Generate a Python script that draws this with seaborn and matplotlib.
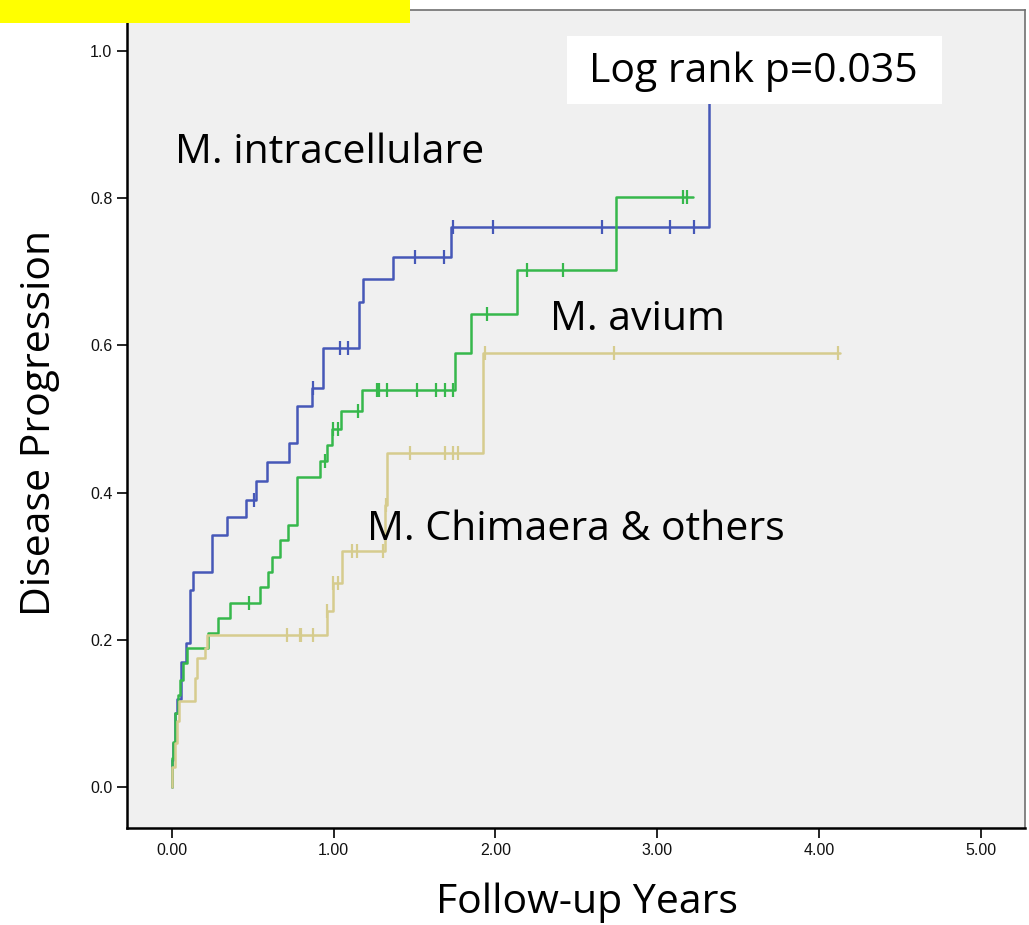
import numpy as np
import pandas as pd
import matplotlib
matplotlib.use("Agg")
import matplotlib.pyplot as plt
import seaborn as sns
from matplotlib.patches import Rectangle

# ---------------- data ----------------
groups = ["M. intracellulare", "M. avium", "M. Chimaera & others"]

intra_t = [0.0, 0.0, 0.006, 0.02, 0.03, 0.055, 0.087, 0.11, 0.13, 0.247, 0.34, 0.458, 0.52,
           0.588, 0.724, 0.773, 0.866, 0.934, 1.156, 1.181, 1.367, 1.725, 3.32]
intra_p = [0.0, 0.037, 0.06, 0.10, 0.12, 0.17, 0.195, 0.268, 0.292, 0.342, 0.367, 0.39, 0.416,
           0.442, 0.467, 0.518, 0.542, 0.596, 0.659, 0.69, 0.72, 0.761, 1.0]
intra_cens_t = [0.51, 0.87, 1.04, 1.09, 1.50, 1.68, 1.74, 1.985, 2.66, 3.08, 3.23]
intra_cens_p = [0.39, 0.542, 0.596, 0.596, 0.72, 0.72, 0.761, 0.761, 0.761, 0.761, 0.761]

avium_t = [0.0, 0.0, 0.006, 0.02, 0.035, 0.05, 0.068, 0.09, 0.22, 0.285, 0.36, 0.545, 0.594,
           0.62, 0.668, 0.717, 0.773, 0.915, 0.96, 0.99, 1.045, 1.175, 1.75, 1.85, 2.134,
           2.746, 3.22]
avium_p = [0.0, 0.04, 0.061, 0.10, 0.125, 0.145, 0.168, 0.189, 0.209, 0.23, 0.25, 0.272, 0.292,
           0.313, 0.336, 0.356, 0.421, 0.443, 0.465, 0.486, 0.511, 0.539, 0.59, 0.643, 0.702,
           0.802, 0.802]
avium_cens_t = [0.476, 0.946, 0.996, 1.027, 1.15, 1.268, 1.28, 1.33, 1.515, 1.633, 1.688,
                1.738, 1.95, 2.195, 2.418, 3.16, 3.185]
avium_cens_p = [0.25, 0.443, 0.486, 0.486, 0.511, 0.539, 0.539, 0.539, 0.539, 0.539, 0.539,
                0.539, 0.643, 0.702, 0.702, 0.802, 0.802]

chim_t = [0.0, 0.0, 0.02, 0.03, 0.045, 0.142, 0.155, 0.204, 0.216, 0.959, 0.996, 1.051,
          1.317, 1.33, 1.923, 4.13]
chim_p = [0.0, 0.027, 0.06, 0.09, 0.117, 0.148, 0.175, 0.189, 0.206, 0.239, 0.277, 0.32,
          0.383, 0.454, 0.59, 0.59]
chim_cens_t = [0.711, 0.79, 0.80, 0.87, 0.96, 0.996, 1.027, 1.113, 1.144, 1.305, 1.323,
               1.47, 1.69, 1.74, 1.77, 1.936, 2.733, 4.12]
chim_cens_p = [0.206, 0.206, 0.206, 0.206, 0.239, 0.277, 0.277, 0.32, 0.32, 0.32, 0.383,
               0.454, 0.454, 0.454, 0.454, 0.59, 0.59, 0.59]

x_ticks = [0, 1, 2, 3, 4, 5]
x_tick_labels = ["0.00", "1.00", "2.00", "3.00", "4.00", "5.00"]
y_ticks = [0.0, 0.2, 0.4, 0.6, 0.8, 1.0]
y_tick_labels = ["0.0", "0.2", "0.4", "0.6", "0.8", "1.0"]
p_text = "Log rank p=0.035"

# ---------------- tables ----------------
curves = pd.concat([
    pd.DataFrame({"t": intra_t, "p": intra_p, "group": groups[0]}),
    pd.DataFrame({"t": avium_t, "p": avium_p, "group": groups[1]}),
    pd.DataFrame({"t": chim_t, "p": chim_p, "group": groups[2]}),
], ignore_index=True)
cens = pd.concat([
    pd.DataFrame({"t": intra_cens_t, "p": intra_cens_p, "group": groups[0]}),
    pd.DataFrame({"t": avium_cens_t, "p": avium_cens_p, "group": groups[1]}),
    pd.DataFrame({"t": chim_cens_t, "p": chim_cens_p, "group": groups[2]}),
], ignore_index=True)

palette = {groups[0]: "#4658b8", groups[1]: "#36b84c", groups[2]: "#d6cc8e"}

# ---------------- figure ----------------
sns.set_theme(style="white")
plt.rcParams["font.family"] = ["Liberation Sans", "DejaVu Sans"]
plt.rcParams["text.color"] = "black"

fig = plt.figure(figsize=(10.29, 9.25), dpi=100)
ax = fig.add_axes([127 / 1029, 1 - 828 / 925, (1025 - 127) / 1029, (828 - 10) / 925])
ax.set_facecolor("#f0f0f0")

sns.lineplot(data=curves, x="t", y="p", hue="group", palette=palette, estimator=None,
             sort=False, drawstyle="steps-post", linewidth=1.8, legend=False, ax=ax)
for g in groups:
    sub = cens[cens["group"] == g]
    ax.plot(sub["t"], sub["p"], linestyle="none", marker="|", markersize=10,
            markeredgewidth=1.6, color=palette[g])

ax.set_xlim(-0.278, 5.275)
ax.set_ylim(-0.0557, 1.0557)
ax.set_xticks(x_ticks)
ax.set_xticklabels(x_tick_labels, fontsize=11.5)
ax.set_yticks(y_ticks)
ax.set_yticklabels(y_tick_labels, fontsize=11.5)
ax.tick_params(axis="both", direction="out", length=7, width=1.2, color="black",
               labelcolor="#111111", bottom=True, left=True)

for s in ["left", "bottom"]:
    ax.spines[s].set_color("black")
    ax.spines[s].set_linewidth(1.8)
for s in ["top", "right"]:
    ax.spines[s].set_color("#707070")
    ax.spines[s].set_linewidth(1.2)

lab_font = ["Open Sans", "DejaVu Sans"]
fs = 29.5
ax.set_xlabel("Follow-up Years", fontsize=fs, family=lab_font, color="black", va="center")
ax.set_ylabel("Disease Progression", fontsize=fs, family=lab_font, color="black", va="center")
ax.xaxis.set_label_coords((587 - 127) / 898, (828 - 903) / 818)
ax.yaxis.set_label_coords((40 - 127) / 898, (828 - 423) / 818)

fig.text(175 / 1029, 1 - 153 / 925, groups[0], fontsize=fs, family=lab_font,
         ha="left", va="center", color="black")
fig.text(550 / 1029, 1 - 320 / 925, groups[1], fontsize=fs, family=lab_font,
         ha="left", va="center", color="black")
fig.text(367 / 1029, 1 - 530 / 925, groups[2], fontsize=fs, family=lab_font,
         ha="left", va="center", color="black")

# white box with log rank text
fig.patches.append(Rectangle((567 / 1029, 1 - 104 / 925), (942 - 567) / 1029, 68 / 925,
                             transform=fig.transFigure, facecolor="white", edgecolor="none",
                             zorder=5))
fig.text(753 / 1029, 1 - 72 / 925, p_text, fontsize=fs, family=lab_font,
         ha="center", va="center", zorder=6, color="black")

# yellow banner at the top-left (cut off)
fig.patches.append(Rectangle((0, 1 - 23 / 925), 410 / 1029, 23 / 925,
                             transform=fig.transFigure, facecolor="#ffff00", edgecolor="none",
                             zorder=5))

fig.savefig("out.png", dpi=100, facecolor="white")
